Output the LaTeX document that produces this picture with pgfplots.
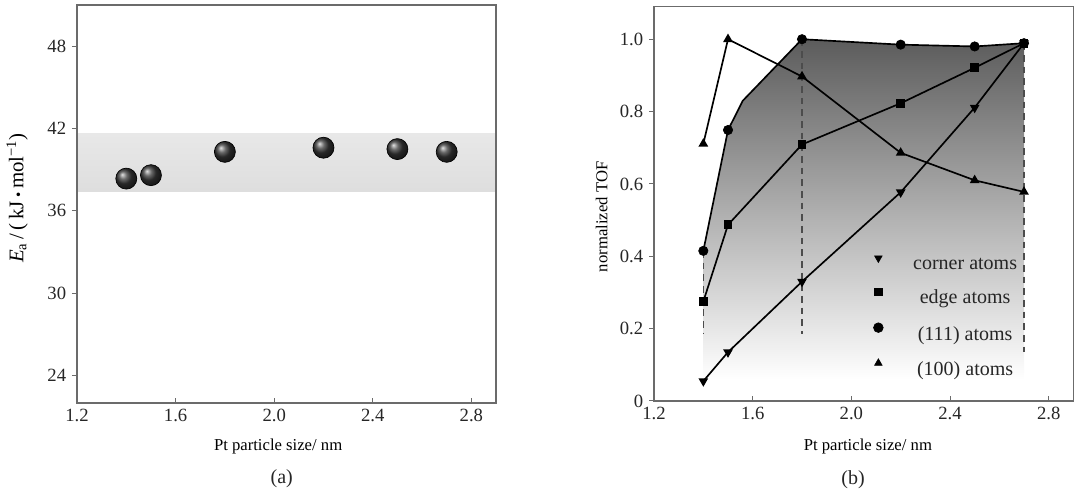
\documentclass[border=0pt]{standalone}
\usepackage{fontspec}
\setmainfont{Liberation Serif}
\usepackage{pgfplots}
\pgfplotsset{compat=1.18}
\pgfdeclareplotmark{myball}{\shade[ball color=black!78] (0pt,0pt) circle (\pgfplotmarksize);}
\definecolor{axgray}{gray}{0.42}
\begin{document}
\begin{tikzpicture}
\path[use as bounding box] (0,0) rectangle (648pt,294pt);
\pgfplotsset{
  common/.style={
    scale only axis, anchor=south west, clip mode=individual,
    axis line style={axgray, line width=0.8pt},
    xmin=1.2, xmax=2.9,
    xtick={1.2,1.6,2.0,2.4,2.8}, xticklabels={1.2,1.6,2.0,2.4,2.8},
    xtick pos=left, ytick pos=left,
    xtick align=inside, ytick align=outside,
    major tick length=3pt,
    tick style={axgray, line width=0.6pt},
    /pgf/number format/assume math mode=true,
    tick label style={font=\fontsize{11.2}{13}\selectfont, text=black!85},
    label style={font=\fontsize{12}{14}\selectfont, text=black!85},
    xlabel={Pt particle size/ nm},
    axis on top,
  }
}
% ---------- (a) ----------
\begin{axis}[common,
  at={(46.2pt,52.2pt)}, width=251.4pt, height=238.8pt,
  ymin=22, ymax=51, ytick={24,30,36,42,48}, yticklabels={24,30,36,42,48},
  every axis x label/.style={at={(axis description cs:0.48,-0.11)}, anchor=center},
  ylabel={\fontsize{12.5}{14}\selectfont\textit{E}\textsubscript{a}\,/\,(\,kJ\,{\small\textbullet}\,mol\textsuperscript{−1})},
  every axis y label/.style={at={(axis description cs:-0.143,0.515)}, rotate=90, anchor=center},
]
\addplot[draw=none, top color=black!9, middle color=black!2, bottom color=black!13]
  coordinates {(1.2,37.4) (2.9,37.4) (2.9,41.64) (1.2,41.64)};
\addplot[only marks, mark=myball, mark size=6.3pt]
  coordinates {(1.4,38.35) (1.5,38.6) (1.8,40.3) (2.2,40.6) (2.5,40.5) (2.7,40.3)};
\node[font=\fontsize{12}{14}\selectfont, text=black!85] at (axis description cs:0.4886,-0.191) {(a)};
\end{axis}
% ---------- (b) ----------
\begin{axis}[common,
  at={(392.4pt,53.4pt)}, width=251.6pt, height=236.6pt,
  ymin=0, ymax=1.09, ytick={0,0.2,0.4,0.6,0.8,1.0}, yticklabels={0,0.2,0.4,0.6,0.8,1.0},
  every axis x label/.style={at={(axis description cs:0.51,-0.116)}, anchor=center},
  ylabel={normalized TOF},
  every axis y label/.style={at={(axis description cs:-0.125,0.467)}, rotate=90, anchor=center},
  legend style={draw=none, fill=none, inner sep=0pt, outer sep=0pt,
    font=\fontsize{12}{14}\selectfont, text=black!85,
    nodes={inner sep=1pt}, row sep=8.8pt,
    at={(axis cs:2.09,0.401)}, anchor=north west},
]
\addplot[draw=none, top color=black!64, bottom color=white, forget plot]
  coordinates {(1.4,0.06) (1.4,0.415) (1.5,0.749) (1.56,0.83) (1.8,1.0) (2.2,0.985) (2.5,0.98) (2.7,0.989) (2.7,0.06)};
\addplot[black!70, line width=0.7pt, dash pattern=on 4pt off 3pt, forget plot] coordinates {(1.4,0.415) (1.4,0.185)};
\addplot[black!70, line width=0.7pt, dash pattern=on 4pt off 3pt, forget plot] coordinates {(1.8,1.0) (1.8,0.185)};
\addplot[black!70, line width=0.7pt, dash pattern=on 4pt off 3pt, forget plot] coordinates {(2.7,0.989) (2.7,0.135)};
% (111)
\addplot[black, line width=1pt, forget plot]
  coordinates {(1.4,0.415) (1.5,0.749) (1.56,0.83) (1.8,1.0) (2.2,0.985) (2.5,0.98) (2.7,0.989)};
\addplot[black, only marks, mark=*, mark size=2.8pt, forget plot]
  coordinates {(1.4,0.415) (1.5,0.749) (1.8,1.0) (2.2,0.985) (2.5,0.98) (2.7,0.989)};
% edge
\addplot[black, line width=1pt, mark=square*, mark size=2.1pt, forget plot]
  coordinates {(1.4,0.275) (1.5,0.487) (1.8,0.709) (2.2,0.823) (2.5,0.921) (2.7,0.989)};
% corner
\addplot[black, line width=1pt, mark=triangle*, mark size=2.4pt, mark options={rotate=180}, forget plot]
  coordinates {(1.4,0.055) (1.5,0.135) (1.8,0.33) (2.2,0.577) (2.5,0.811) (2.7,0.989)};
% (100)
\addplot[black, line width=1pt, mark=triangle*, mark size=2.4pt, forget plot]
  coordinates {(1.4,0.711) (1.5,1.0) (1.8,0.897) (2.2,0.686) (2.5,0.61) (2.7,0.578)};
\addlegendimage{legend image code/.code={\draw[black, only marks, mark=triangle*, mark size=2.6pt, mark options={rotate=180}] plot coordinates {(0pt,4pt)};}}
\addlegendentry{\hspace*{17pt}corner atoms}
\addlegendimage{legend image code/.code={\draw[black, only marks, mark=square*, mark size=2.2pt] plot coordinates {(0pt,4pt)};}}
\addlegendentry{\hspace*{17pt}edge atoms}
\addlegendimage{legend image code/.code={\draw[black, only marks, mark=*, mark size=2.9pt] plot coordinates {(0pt,4pt)};}}
\addlegendentry{\hspace*{17pt}(111) atoms}
\addlegendimage{legend image code/.code={\draw[black, only marks, mark=triangle*, mark size=2.6pt] plot coordinates {(0pt,4pt)};}}
\addlegendentry{\hspace*{17pt}(100) atoms}
\node[font=\fontsize{12}{14}\selectfont, text=black!85] at (axis description cs:0.4746,-0.200) {(b)};
\end{axis}
\end{tikzpicture}
\end{document}
